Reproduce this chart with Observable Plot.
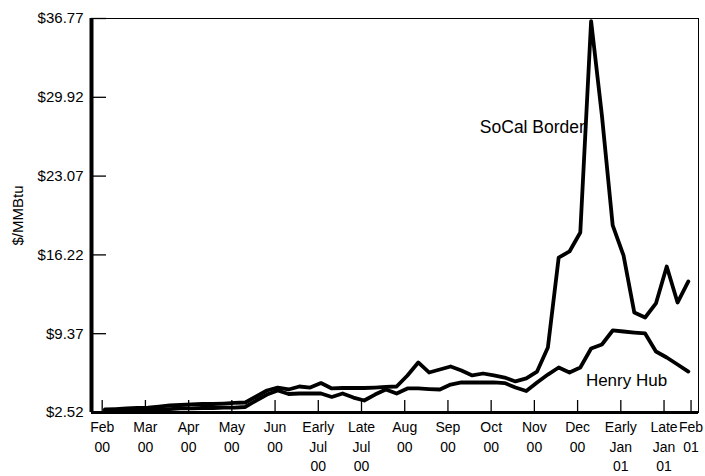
<!DOCTYPE html>
<html><head><meta charset="utf-8">
<script src="https://cdn.jsdelivr.net/npm/d3@7"></script>
<script src="https://cdn.jsdelivr.net/npm/@observablehq/plot@0.6"></script>
<style>
body{margin:0;background:#fff;}
#chart svg{font-family:"Liberation Sans",Arial,Helvetica,sans-serif;}
</style>
</head><body><div id="chart"></div>
<script>
// weekly observations, Feb 2000 - Feb 2001 (week index)
const weeks = [0,1,2,3,4,5,6,7,8,9,10,11,12,13,14,15,16,17,18,19,20,21,22,23,24,25,26,27,28,29,30,31,32,33,34,35,36,37,38,39,40,41,42,43,44,45,46,47,48,49,50,51,52,53,54];
const socalBorder = [2.78,2.82,2.87,2.91,2.95,3.04,3.13,3.17,3.22,3.26,3.26,3.30,3.35,3.39,3.91,4.43,4.69,4.52,4.78,4.69,5.08,4.61,4.65,4.65,4.65,4.69,4.74,4.78,5.74,6.87,6.00,6.26,6.52,6.17,5.74,5.91,5.74,5.56,5.22,5.48,6.08,8.17,15.99,16.52,18.17,36.55,28.34,18.78,16.17,11.21,10.78,12.00,15.21,12.08,13.91];
const henryHub = [2.69,2.74,2.74,2.78,2.78,2.82,2.82,2.87,2.87,2.91,2.91,2.95,2.95,3.00,3.56,4.08,4.43,4.13,4.17,4.17,4.17,3.87,4.17,3.82,3.56,4.08,4.52,4.17,4.61,4.61,4.56,4.52,4.95,5.13,5.13,5.13,5.13,5.08,4.69,4.39,5.13,5.82,6.43,6.00,6.43,8.08,8.43,9.65,9.56,9.47,9.39,7.82,7.30,6.69,6.08];
const seriesNames = ["SoCal Border", "Henry Hub"];
const xTickLabels = ["Feb\n00","Mar\n00","Apr\n00","May\n00","Jun\n00","Early\nJul\n00","Late\nJul\n00","Aug\n00","Sep\n00","Oct\n00","Nov\n00","Dec\n00","Early\nJan\n01","Late\nJan\n01","Feb\n01"];
const xTickWeeks = [-0.25,3.75,7.75,11.75,15.75,19.75,23.75,27.75,31.75,35.75,39.75,43.75,47.75,51.75,54.25];
const yTicks = [2.52,9.37,16.22,23.07,29.92,36.77];
const yLabel = "$/MMBtu";

const W = 705, H = 476, mL = 91, mR = 7, mT = 18, mB = 64;
const xDomain = [-1.24, 54.94];
const yDomain = [yTicks[0], yTicks[yTicks.length - 1]];
const plotW = W - mL - mR, plotH = H - mT - mB;

const rows = (vals, name) => vals.map((v, i) => ({week: weeks[i], value: v, series: name}));
const data = rows(socalBorder, seriesNames[0]).concat(rows(henryHub, seriesNames[1]));

const tickRows = [];
xTickLabels.forEach((lab, i) => lab.split("\n").forEach((t, r) => tickRows.push({x: xTickWeeks[i], text: t, row: r})));
const lineH = 19.5;

const chart = Plot.plot({
  width: W, height: H,
  marginLeft: mL, marginRight: mR, marginTop: mT, marginBottom: mB,
  x: {type: "linear", domain: xDomain},
  y: {type: "linear", domain: yDomain},
  style: {fontFamily: "'Liberation Sans', Arial, Helvetica, sans-serif", background: "#fff", color: "#000"},
  marks: [
    Plot.frame({stroke: "#000", strokeWidth: 1}),
    Plot.axisX({ticks: [], label: null}),
    Plot.axisY(yTicks, {tickSize: 0, tickPadding: 8, fontSize: 15, tickFormat: d => "$" + d.toFixed(2), label: null}),
    Plot.text([yLabel], {text: d => d, frameAnchor: "left", textAnchor: "middle", lineAnchor: "middle", rotate: -90, dx: -73, fontSize: 15, fill: "#000"}),
    Plot.tickY(yTicks, {y: d => d, insetRight: plotW - 15, stroke: "#000", strokeWidth: 1.3}),
    Plot.tickX(xTickWeeks, {x: d => d, insetTop: plotH - 12, stroke: "#000", strokeWidth: 1.3}),
    ...[0,1,2].map(r => Plot.text(tickRows.filter(d => d.row === r), {x: "x", text: "text", frameAnchor: "bottom", dy: 15.5 + r * lineH, fontSize: 14, lineAnchor: "middle", fill: "#000"})),
    Plot.line(data, {x: "week", y: "value", z: "series", stroke: "#000", strokeWidth: 3.8, strokeLinejoin: "round"}),
    Plot.ruleX([xDomain[0]], {stroke: "#000", strokeWidth: 4}),
    Plot.ruleY([yDomain[0]], {stroke: "#000", strokeWidth: 3}),
    Plot.text(data.filter(d => d.series === seriesNames[0] && d.week === 46), {x: "week", y: "value", text: "series", textAnchor: "end", dx: -17, dy: 12, fontSize: 17.5, fill: "#000"}),
    Plot.text(data.filter(d => d.series === seriesNames[1] && d.week === 48), {x: "week", y: "value", text: "series", textAnchor: "middle", dx: 3, dy: 49, fontSize: 17, fill: "#000"})
  ]
});
document.getElementById("chart").append(chart);
</script>
</body></html>
